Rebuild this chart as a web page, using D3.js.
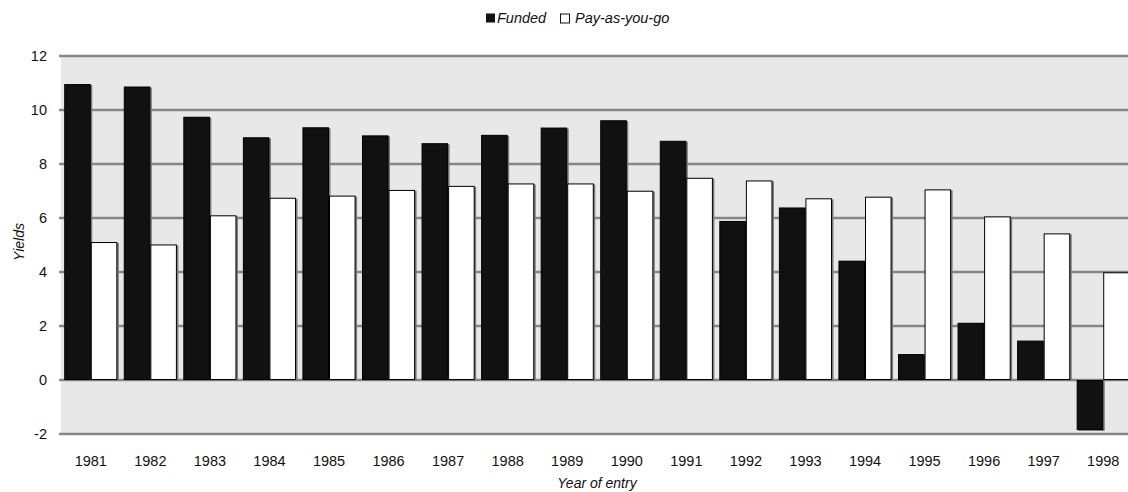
<!DOCTYPE html>
<html>
<head>
<meta charset="utf-8">
<script src="https://cdn.jsdelivr.net/npm/d3@7"></script>
<style>
  html, body { margin: 0; padding: 0; background: #fff; }
  svg { display: block; font-family: "Liberation Sans", Arial, sans-serif; }
</style>
</head>
<body>
<svg id="chart" width="1128" height="492"></svg>
<script>
const years = ["1981","1982","1983","1984","1985","1986","1987","1988","1989","1990","1991","1992","1993","1994","1995","1996","1997","1998"];
const funded = [10.96, 10.87, 9.75, 8.99, 9.36, 9.06, 8.77, 9.08, 9.35, 9.62, 8.86, 5.89, 6.39, 4.42, 0.96, 2.12, 1.46, -1.85];
const payg   = [5.11, 5.02, 6.10, 6.75, 6.83, 7.04, 7.19, 7.28, 7.28, 7.01, 7.49, 7.39, 6.73, 6.79, 7.06, 6.06, 5.43, 3.99];
const seriesNames = ["Funded", "Pay-as-you-go"];
const yTicks = [-2, 0, 2, 4, 6, 8, 10, 12];

(function () {
const svg = d3.select("#chart");
const pL = 61, pR = 1133, pT = 56, pB = 434;
const FONT = '"Liberation Sans", Arial, sans-serif';
const FS = 14.5;

const y = d3.scaleLinear().domain([-2, 12]).range([pB, pT]);
const x0 = d3.scaleBand().domain(years).range([pL, pR]).paddingInner(0.108).paddingOuter(0.054);
const x1 = d3.scaleBand().domain(seriesNames).range([0, x0.bandwidth()]);

// plot background
svg.append("rect").attr("x", pL).attr("y", pT).attr("width", pR - pL).attr("height", pB - pT).attr("fill", "#e8e8e8");

// gridlines
svg.append("g").selectAll("line").data(yTicks).join("line")
  .attr("x1", pL - 2).attr("x2", pR)
  .attr("y1", d => y(d)).attr("y2", d => y(d))
  .attr("stroke", "#868686").attr("stroke-width", 2.4);

// y axis labels
const yAxis = d3.axisLeft(y).tickValues(yTicks).tickSize(0).tickPadding(14).tickFormat(d => String(d));
const gy = svg.append("g").attr("transform", `translate(${pL},0)`).call(yAxis);
gy.select(".domain").remove();
gy.selectAll("text").attr("font-size", FS).attr("fill", "#111").style("font-family", FONT);

// bars
const data = years.map((yr, i) => ({ yr, vals: [{ s: seriesNames[0], v: funded[i] }, { s: seriesNames[1], v: payg[i] }] }));
const groups = svg.append("g").selectAll("g").data(data).join("g")
  .attr("transform", d => `translate(${x0(d.yr)},0)`);

// shadows
groups.selectAll("rect.sh").data(d => d.vals).join("rect").attr("class", "sh")
  .attr("x", d => x1(d.s) + 1.5)
  .attr("y", d => Math.min(y(d.v), y(0)) + 1)
  .attr("width", x1.bandwidth())
  .attr("height", d => Math.abs(y(d.v) - y(0)))
  .attr("fill", "#7a7a7a");

groups.selectAll("rect.bar").data(d => d.vals).join("rect").attr("class", "bar")
  .attr("x", d => x1(d.s) + 0.5)
  .attr("y", d => Math.min(y(d.v), y(0)) + 0.5)
  .attr("width", x1.bandwidth() - 1)
  .attr("height", d => Math.abs(y(d.v) - y(0)) - 1)
  .attr("fill", d => d.s === "Funded" ? "#111111" : "#ffffff")
  .attr("stroke", "#000").attr("stroke-width", 1);

// x axis labels
const xAxis = d3.axisBottom(x0).tickSize(0).tickPadding(21.5);
const gx = svg.append("g").attr("transform", `translate(0,${pB})`).call(xAxis);
gx.select(".domain").remove();
gx.selectAll("text").attr("font-size", FS).attr("fill", "#111").style("font-family", FONT);

// axis titles
svg.append("text").attr("x", (pL + pR) / 2).attr("y", 488).attr("text-anchor", "middle")
  .attr("font-size", 14).attr("font-style", "italic").attr("fill", "#111").text("Year of entry");
svg.append("text").attr("transform", "translate(24,242) rotate(-90)").attr("text-anchor", "middle")
  .attr("font-size", 14).attr("font-style", "italic").attr("fill", "#111").text("Yields");

// legend
const legend = svg.append("g").attr("transform", "translate(486,13.5)");
legend.append("rect").attr("x", 0).attr("y", 0).attr("width", 9).attr("height", 9).attr("fill", "#111");
legend.append("text").attr("x", 11).attr("y", 9.5).attr("font-size", FS).attr("font-style", "italic").attr("fill", "#111").text(seriesNames[0]);
legend.append("rect").attr("x", 74.5).attr("y", 0.5).attr("width", 9).attr("height", 9).attr("fill", "#fff").attr("stroke", "#111").attr("stroke-width", 1);
legend.append("text").attr("x", 89).attr("y", 9.5).attr("font-size", FS).attr("font-style", "italic").attr("fill", "#111").text(seriesNames[1]);
})();
</script>
</body>
</html>
